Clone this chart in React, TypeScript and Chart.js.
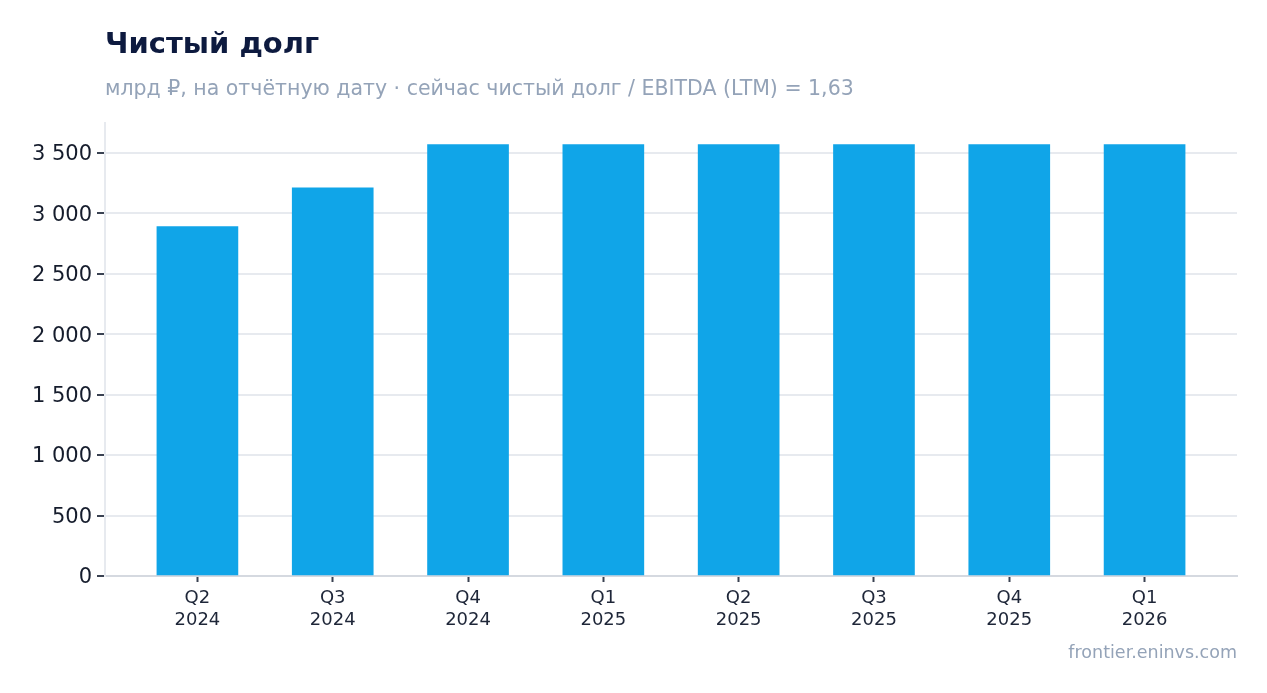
import React, { useEffect, useRef } from "react";
import { Chart, registerables } from "chart.js";

Chart.register(...registerables);

const titleText = "Чистый долг";
const subtitleText = "млрд ₽, на отчётную дату · сейчас чистый долг / EBITDA (LTM) = 1,63";
const footerText = "frontier.eninvs.com";

const categories: string[][] = [
  ["Q2", "2024"],
  ["Q3", "2024"],
  ["Q4", "2024"],
  ["Q1", "2025"],
  ["Q2", "2025"],
  ["Q3", "2025"],
  ["Q4", "2025"],
  ["Q1", "2026"],
];
const netDebt: number[] = [2888, 3210, 3567, 3567, 3567, 3567, 3567, 3567];
const yTicks: number[] = [0, 500, 1000, 1500, 2000, 2500, 3000, 3500];
const yMax = 3745;

const FONT = "'DejaVu Sans', 'Noto Sans', sans-serif";

const fmt = (v: number) =>
  String(Math.round(v)).replace(/\B(?=(\d{3})+(?!\d))/g, " ");

export default function App() {
  const ref = useRef<HTMLCanvasElement | null>(null);

  useEffect(() => {
    document.body.style.margin = "0";
    const canvas = ref.current;
    if (!canvas) return;

    const textPlugin = {
      id: "texts",
      afterDraw(chart: any) {
        const { ctx, chartArea } = chart;
        ctx.save();
        ctx.textBaseline = "alphabetic";
        ctx.textAlign = "left";
        ctx.fillStyle = "#0d1a3f";
        ctx.font = `bold 29px ${FONT}`;
        ctx.fillText(titleText, chartArea.left, 53);
        ctx.fillStyle = "#94a3b8";
        ctx.font = `20.5px ${FONT}`;
        ctx.fillText(subtitleText, chartArea.left, 95);
        ctx.textAlign = "right";
        ctx.font = `17.5px ${FONT}`;
        ctx.fillText(footerText, chartArea.right, 658);
        ctx.restore();
      },
    };

    const chart = new Chart(canvas, {
      type: "bar",
      data: {
        datasets: [
          {
            data: netDebt.map((v, i) => ({ x: i, y: v })) as any,
            backgroundColor: "#10a5e8",
            borderWidth: 0,
            barThickness: 81,
          },
        ],
      },
      options: {
        animation: false,
        responsive: false,
        maintainAspectRatio: false,
        layout: { padding: { top: 123, right: 30, left: 0, bottom: 0 } },
        plugins: {
          legend: { display: false },
          tooltip: { enabled: false },
          title: { display: false },
        },
        scales: {
          x: {
            type: "linear",
            min: -0.683,
            max: categories.length - 1 + 0.683,
            offset: false,
            afterFit(scale: any) {
              scale.height = 117;
            },
            afterBuildTicks(scale: any) {
              scale.ticks = categories.map((_, i) => ({ value: i }));
            },
            grid: {
              display: true,
              offset: false,
              drawOnChartArea: false,
              drawTicks: true,
              tickLength: 6,
              tickColor: "#3a4252",
              tickWidth: 2,
            },
            border: { display: true, color: "#d5d9e0", width: 2 },
            ticks: {
              color: "#1e2638",
              font: { family: FONT, size: 18 },
              padding: 6,
              maxRotation: 0,
              autoSkip: false,
              callback: (v: any) => categories[Math.round(Number(v))] ?? "",
            },
          },
          y: {
            min: 0,
            max: yMax,
            afterFit(scale: any) {
              scale.width = 105;
            },
            afterBuildTicks(scale: any) {
              scale.ticks = yTicks.map((v) => ({ value: v }));
            },
            grid: {
              color: "#e7eaef",
              lineWidth: 2,
              drawTicks: true,
              tickLength: 8,
              tickColor: "#3a4252",
              tickWidth: 2,
            },
            border: { display: true, color: "#e7eaef", width: 2 },
            ticks: {
              color: "#151c2c",
              font: { family: FONT, size: 21 },
              padding: 5,
              labelOffset: 2,
              callback: (v: any) => fmt(Number(v)),
            },
          },
        },
      },
      plugins: [textPlugin],
    });

    return () => chart.destroy();
  }, []);

  return (
    <div style={{ position: "fixed", left: 0, top: 0, width: 1267, height: 693, background: "#fff" }}>
      <canvas ref={ref} width={1267} height={693} style={{ width: 1267, height: 693 }} />
    </div>
  );
}
